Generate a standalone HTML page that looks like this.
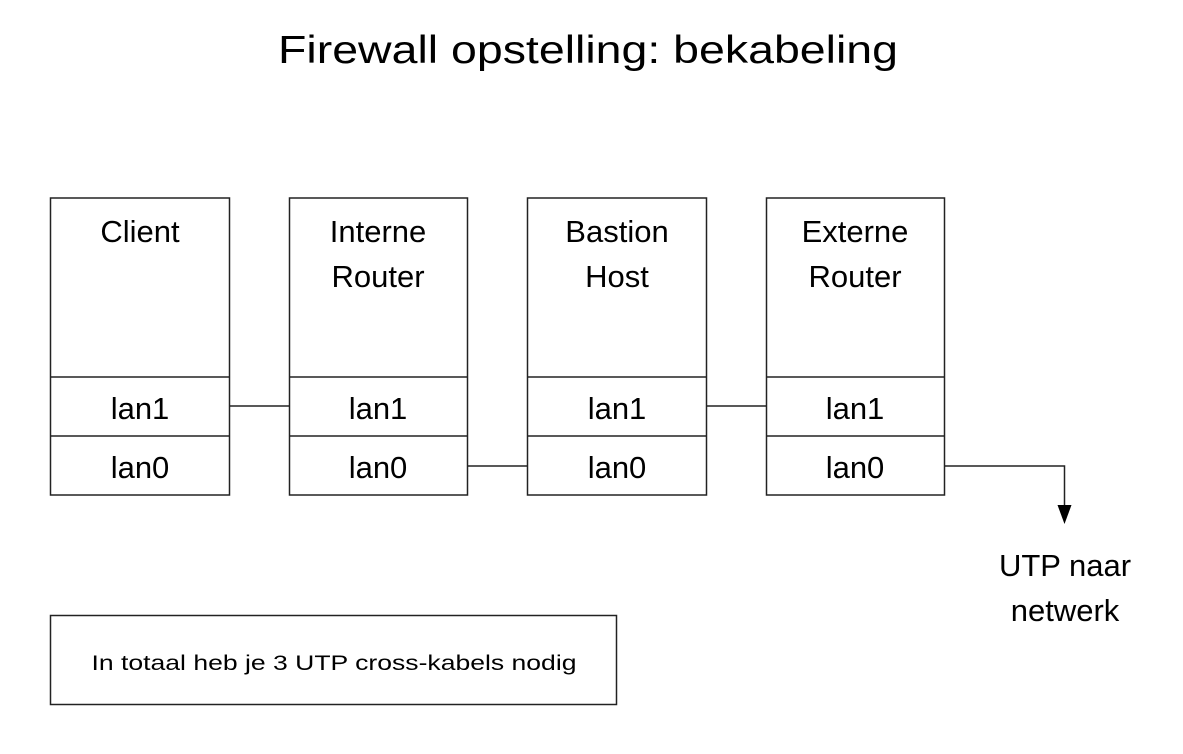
<!DOCTYPE html>
<html><head><meta charset="utf-8"><style>
html,body{margin:0;padding:0;background:#fff;}
svg{display:block;}
text{font-family:"Liberation Sans",sans-serif;fill:#000;}
</style></head><body>
<svg width="1183" height="754" viewBox="0 0 1183 754" xmlns="http://www.w3.org/2000/svg">
<text x="588" y="63" font-size="39" text-anchor="middle" textLength="620" lengthAdjust="spacingAndGlyphs">Firewall opstelling: bekabeling</text>
<g fill="none" stroke="#222" stroke-width="1.5">
<rect x="50.5" y="198" width="179" height="297"/>
<line x1="50.5" y1="377" x2="229.5" y2="377"/><line x1="50.5" y1="436" x2="229.5" y2="436"/>
<rect x="289.5" y="198" width="178" height="297"/>
<line x1="289.5" y1="377" x2="467.5" y2="377"/><line x1="289.5" y1="436" x2="467.5" y2="436"/>
<rect x="527.5" y="198" width="179" height="297"/>
<line x1="527.5" y1="377" x2="706.5" y2="377"/><line x1="527.5" y1="436" x2="706.5" y2="436"/>
<rect x="766.5" y="198" width="178" height="297"/>
<line x1="766.5" y1="377" x2="944.5" y2="377"/><line x1="766.5" y1="436" x2="944.5" y2="436"/>
<line x1="229.5" y1="406" x2="289.5" y2="406"/>
<line x1="467.5" y1="466" x2="527.5" y2="466"/>
<line x1="706.5" y1="406" x2="766.5" y2="406"/>
<polyline points="944.5,466 1064.5,466 1064.5,507"/>
<rect x="50.5" y="615.5" width="566" height="89"/>
</g>
<polygon points="1057.5,505 1071.5,505 1064.5,524" fill="#000"/>
<g font-size="31" text-anchor="middle">
<text x="140" y="242">Client</text>
<text x="378" y="242">Interne</text><text x="378" y="287">Router</text>
<text x="617" y="242">Bastion</text><text x="617" y="287">Host</text>
<text x="855" y="242">Externe</text><text x="855" y="287">Router</text>
<text x="140" y="419">lan1</text><text x="140" y="478">lan0</text>
<text x="378" y="419">lan1</text><text x="378" y="478">lan0</text>
<text x="617" y="419">lan1</text><text x="617" y="478">lan0</text>
<text x="855" y="419">lan1</text><text x="855" y="478">lan0</text>
<text x="1065" y="576">UTP naar</text><text x="1065" y="621">netwerk</text>
</g>
<text x="334" y="670" font-size="21" text-anchor="middle" textLength="485" lengthAdjust="spacingAndGlyphs">In totaal heb je 3 UTP cross-kabels nodig</text>
</svg>
</body></html>
